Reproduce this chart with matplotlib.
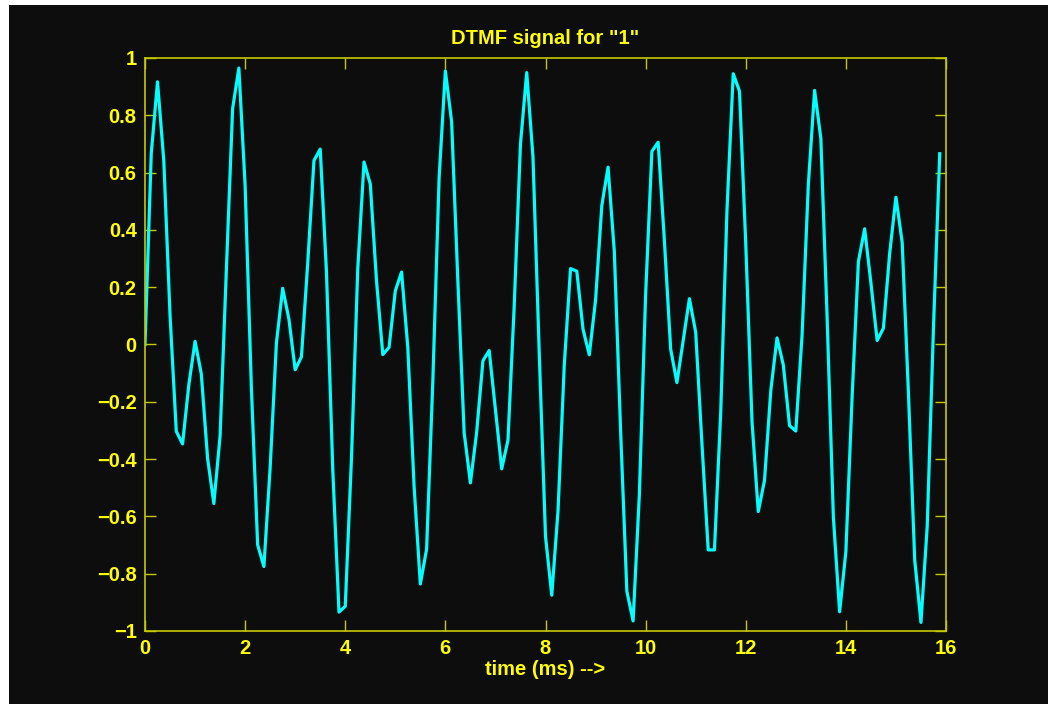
import matplotlib
matplotlib.use("Agg")
import matplotlib.pyplot as plt
import numpy as np
from matplotlib.patches import Rectangle

# samples of the "1" tone pair, 0.125 ms apart
SAMPLE_MS = 0.125
signal = [
    0.000, 0.667, 0.917, 0.643, 0.102, -0.303, -0.347, -0.141,
    0.011, -0.103, -0.397, -0.555, -0.319, 0.260, 0.823, 0.965,
    0.555, -0.151, -0.699, -0.775, -0.429, 0.005, 0.196, 0.088,
    -0.088, -0.043, 0.283, 0.642, 0.682, 0.253, -0.433, -0.934,
    -0.914, -0.394, 0.264, 0.637, 0.560, 0.221, -0.035, -0.010,
    0.187, 0.253, -0.011, -0.495, -0.836, -0.714, -0.125, 0.582,
    0.955, 0.777, 0.219, -0.308, -0.483, -0.306, -0.057, -0.021,
    -0.229, -0.434, -0.334, 0.135, 0.700, 0.949, 0.654, -0.030,
    -0.670, -0.875, -0.581, -0.072, 0.265, 0.256, 0.053, -0.036,
    0.155, 0.485, 0.619, 0.324, -0.300, -0.861, -0.965, -0.523,
    0.174, 0.674, 0.706, 0.362, -0.016, -0.133, 0.013, 0.160,
    0.043, -0.346, -0.717, -0.717, -0.236, 0.469, 0.945, 0.884,
    0.352, -0.269, -0.583, -0.474, -0.161, 0.023, -0.071, -0.283,
    -0.302, 0.033, 0.558, 0.887, 0.719, 0.096, -0.602, -0.933,
    -0.723, -0.181, 0.289, 0.404, 0.215, 0.014, 0.057, 0.318,
    0.514, 0.356, -0.171, -0.752, -0.970, -0.634, 0.060, 0.666,
]
t = np.arange(len(signal)) * SAMPLE_MS

x_ticks = [0, 2, 4, 6, 8, 10, 12, 14, 16]
y_ticks = [-1, -0.8, -0.6, -0.4, -0.2, 0, 0.2, 0.4, 0.6, 0.8, 1]
y_labels = ["\u22121", "\u22120.8", "\u22120.6", "\u22120.4", "\u22120.2", "0",
            "0.2", "0.4", "0.6", "0.8", "1"]

BG = "#0d0d0d"
YEL = "#ffff00"
AXC = "#c8c800"

plt.rcParams["font.family"] = ["Liberation Sans", "DejaVu Sans"]
plt.rcParams["font.weight"] = "bold"

# dark canvas, thin white margin on the left and top
fig = plt.figure(figsize=(10.48, 7.04), dpi=100, facecolor=BG)
fig.patches.append(Rectangle((0, 0), 9 / 1048, 1, transform=fig.transFigure,
                             facecolor="white", edgecolor="none", zorder=-10))
fig.patches.append(Rectangle((0, 699 / 704), 1, 5 / 704, transform=fig.transFigure,
                             facecolor="white", edgecolor="none", zorder=-10))

ax = fig.add_axes([145 / 1048, 73 / 704, 801 / 1048, 573 / 704])
ax.set_facecolor(BG)
ax.plot(t, signal, color="#00ffff", linewidth=2.3)

ax.set_xlim(0, 16)
ax.set_ylim(-1, 1)
ax.set_xticks(x_ticks)
ax.set_yticks(y_ticks)
ax.set_yticklabels(y_labels)
ax.tick_params(direction="in", length=8, width=1, color=AXC, labelcolor=YEL,
               labelsize=14.5, top=True, right=True, pad=6)
for s in ax.spines.values():
    s.set_color(AXC)
    s.set_linewidth(1.2)

ax.set_title('DTMF signal for "1"', color=YEL, fontsize=14.5, fontweight="bold", pad=10)
ax.set_xlabel("time (ms) -->", color=YEL, fontsize=14.5, fontweight="bold", labelpad=1)

fig.savefig("out.png", dpi=100, facecolor=fig.get_facecolor())
